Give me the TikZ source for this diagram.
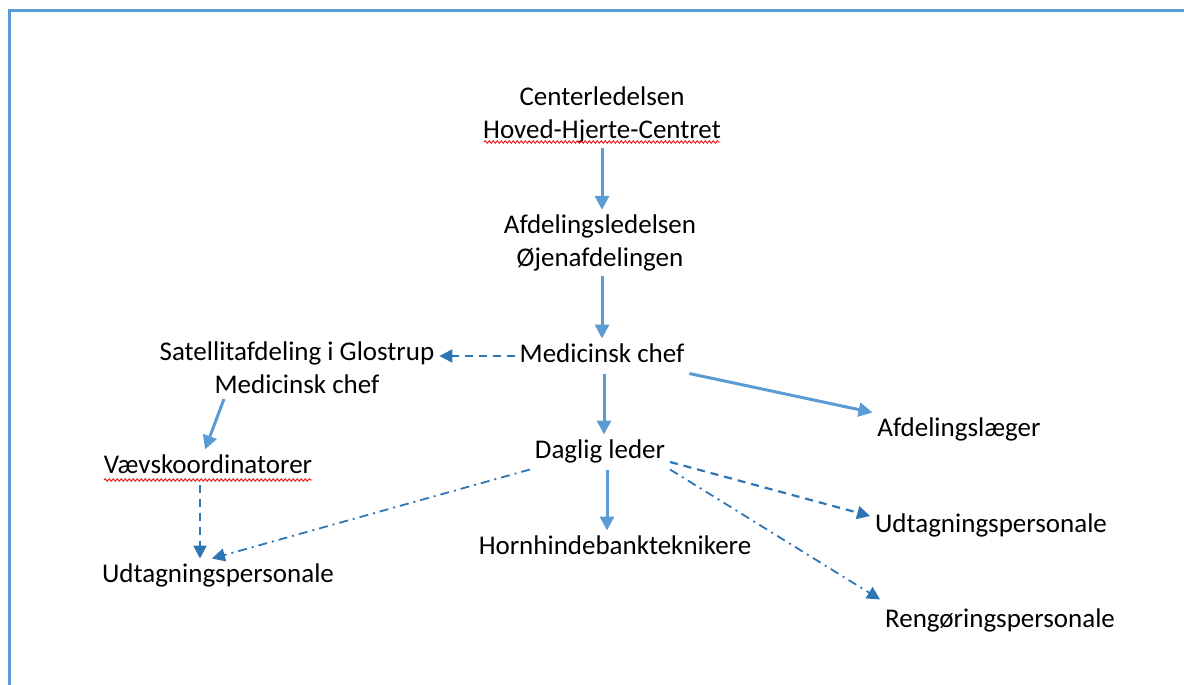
\documentclass[tikz,border=0pt]{standalone}
\usepackage{fontspec}
\setmainfont{Carlito}
\usetikzlibrary{arrows.meta,decorations.pathmorphing}
\definecolor{frameblue}{HTML}{5B9BD5}
\definecolor{dashblue}{HTML}{2E75B6}
\tikzset{
  orgtext/.style={inner sep=0pt, outer sep=5pt, align=center,
    font=\fontsize{27}{33}\selectfont},
  oneline/.style={orgtext, text height=19pt, text depth=6pt},
  solidarrow/.style={draw=frameblue, line width=3pt,
    -{Triangle[length=14pt,width=14pt]}},
  dasharrow/.style={draw=dashblue, line width=2.2pt,
    dash pattern=on 8pt off 6pt, -{Triangle[length=13pt,width=13pt]}},
  dotarrow/.style={draw=dashblue, line width=1.8pt,
    dash pattern=on 9pt off 5pt on 2pt off 5pt, -{Triangle[length=13pt,width=13pt]}},
  spellmark/.style={draw=red, line width=0.8pt,
    decorate, decoration={snake, amplitude=1.3pt, segment length=4pt}}
}
\begin{document}
\begin{tikzpicture}[x=1pt, y=-1pt]
  \clip (0,0) rectangle (1184,685);
  % The frame round the chart (only top and left show)
  \draw [frameblue, line width=3pt] (9.5,700) -- (9.5,11) -- (1200,11);

  % Chart boxes
  \node [orgtext] (center) at (602,115) {Centerledelsen\\Hoved-Hjerte-Centret};
  \node [orgtext] (afd) at (600,243) {Afdelingsledelsen\\Øjenafdelingen};
  \node [oneline] (med) at (602,356) {Medicinsk chef};
  \node [orgtext] (sat) at (297,368) {Satellitafdeling i Glostrup\\Medicinsk chef};
  \node [oneline] (vaev) at (208,467) {Vævskoordinatorer};
  \node [oneline] (udtl) at (218,576) {Udtagningspersonale};
  \node [oneline] (daglig) at (600,452) {Daglig leder};
  \node [oneline] (horn) at (615,548) {Hornhindebankteknikere};
  \node [oneline] (afdl) at (959,430) {Afdelingslæger};
  \node [oneline] (udtr) at (991,526) {Udtagningspersonale};
  \node [oneline] (reng) at (1000,621) {Rengøringspersonale};

  % Spell-check marks
  \draw [spellmark] (484,142) -- (720,142);
  \draw [spellmark] (104,480) -- (312,480);

  % Solid lines
  \draw [solidarrow] (center.south) -- (center.south |- afd.north);
  \draw [solidarrow] (med.north |- afd.south) -- (med.north);
  \draw [solidarrow] ([xshift=2pt]med.south) -- ([xshift=2pt]med.south |- daglig.north);
  \draw [solidarrow] ([xshift=7pt]daglig.south) -- ([xshift=7pt]daglig.south |- horn.north);
  \draw [solidarrow] (med.south east) -- (afdl.north west);
  \draw [solidarrow] ([xshift=-73pt]sat.south) -- ([xshift=-3pt]vaev.north);

  % Dashed lines
  \draw [dasharrow] (med.west) -- (med.west -| sat.east);
  \draw [dasharrow] ([xshift=-8pt]vaev.south) -- ([xshift=-8pt]vaev.south |- udtl.north);
  \draw [dasharrow] ([yshift=-10pt]daglig.east) -- ([yshift=10pt]udtr.west);
  \draw [dotarrow] (daglig.south west) -- ([xshift=-6pt]udtl.north);
  \draw [dotarrow] (daglig.south east) -- ([yshift=4pt]reng.north west);
\end{tikzpicture}
\end{document}
